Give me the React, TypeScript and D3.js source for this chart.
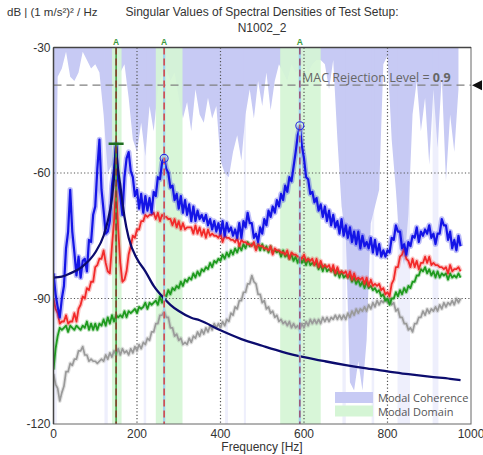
import React from "react";
import * as d3 from "d3";

// Spectral densities sampled every 5 Hz starting at 0 Hz (dB re (1 m/s²)²/Hz)
const FREQ_STEP = 5;

const sv1 = [
  -84, -89, -92, -94.5, -90, -87, -78, -74, -64, -74, -79, -84.5, -80, -85, -81, -80.5, -83.5, -76, -76.5, -70,
  -68, -59, -52, -64, -69, -74.5, -74, -71.5, -63, -59, -53, -62, -65.5, -70, -61, -56.5, -55, -59.5, -61, -65.5,
  -64, -68.5, -65, -69.5, -65.5, -69, -66, -69.5, -64.5, -65.5, -61, -61.5, -57.5, -56.5, -59, -60, -63.5, -63, -66.5, -65,
  -68.5, -65.5, -69.5, -66.5, -70, -67.5, -71.5, -68, -71.5, -69, -71, -70, -71.5, -70, -72.5, -71, -73.5, -71.5, -74, -72,
  -74.5, -71.5, -75, -72, -74, -73, -75, -73.5, -75.5, -72, -75.5, -71.5, -73, -69.5, -72, -72, -75.5, -74.5, -76.5, -73,
  -74.5, -71, -72.5, -69, -70.5, -68, -69.5, -66.5, -68, -65, -66.5, -63, -64.5, -61, -62, -58.5, -55, -51, -49, -53.5,
  -56.5, -61, -61.5, -65, -64.5, -67, -66, -69, -67.5, -70.5, -68, -71.5, -69, -72.5, -70, -73, -71.5, -74.5, -71, -75,
  -72.5, -75.5, -73, -76.5, -74, -77, -74, -78, -75, -77.5, -76.5, -78, -75.5, -79, -76, -79.5, -77, -80, -78.5, -80,
  -78.5, -79, -75.5, -76, -72.5, -74, -74, -78, -77, -79.5, -76.5, -77.5, -75, -75.5, -73, -76.5, -74, -75, -73.5, -74.5,
  -72.5, -75.5, -74.5, -77, -74.5, -74.5, -71, -72.5, -72.5, -76, -74, -78, -76, -78.5, -75, -77.5,
];

const sv2 = [
  -90, -92.5, -93.5, -96, -95.5, -95.5, -94, -96, -95.5, -95.5, -93.5, -95.5, -92.5, -91.5, -89.5, -90, -87.5, -88, -86, -86,
  -82.5, -82, -80.5, -80.5, -78.5, -81.5, -83.5, -84, -77.5, -71.5, -63, -73.5, -81.5, -86, -85.5, -83.5, -79.5, -77.5, -75, -75.5,
  -73.5, -73.5, -71.5, -71.5, -70, -70.5, -70, -70, -69.5, -71, -69.5, -71.5, -70, -70.5, -70.5, -71, -71, -72.5, -71, -73,
  -71.5, -73.5, -72, -73.5, -73, -73, -73, -74.5, -72.5, -74.5, -73, -75, -73.5, -75.5, -73.5, -75, -74.5, -75, -75, -75.5,
  -74.5, -76.5, -75, -75.5, -75.5, -76, -76, -76.5, -75.5, -77.5, -76, -76.5, -76.5, -77, -77, -77.5, -76.5, -78.5, -77, -77.5,
  -77.5, -78, -78, -78.5, -77.5, -79.5, -78, -78.5, -78.5, -79, -79, -79.5, -78.5, -80.5, -79, -79.5, -79.5, -80, -80, -80.5,
  -79.5, -81, -80.5, -81, -80.5, -82, -80.5, -82.5, -81, -82.5, -82, -82.5, -82, -83.5, -82, -84, -82.5, -84, -83.5, -84,
  -83.5, -85, -83.5, -85.5, -84, -85.5, -85, -85.5, -85, -86.5, -85, -87, -85.5, -87, -86.5, -87, -86.5, -88, -87.5, -89,
  -88.5, -89.5, -86.5, -85.5, -82.5, -82.5, -80, -79.5, -78, -80.5, -81, -82.5, -80.5, -82.5, -81, -83, -81.5, -81.5, -80, -81.5,
  -80, -82, -81.5, -82, -82, -82.5, -82.5, -83, -82.5, -84, -82, -83.5, -83, -83, -82.5, -83.5,
];

const sv3 = [
  -107, -102, -99, -97, -97.5, -97, -96.5, -98, -96.5, -97, -97.5, -96.5, -97, -97.5, -96.5, -97, -95.5, -97.5, -96, -97.5,
  -96, -97.5, -96, -96.5, -95, -96.5, -94.5, -96, -94, -95.5, -94, -94.5, -94, -94.5, -93, -94.5, -93, -93.5, -93, -92.5,
  -93.5, -92, -92.5, -92, -91, -92.5, -91, -91.5, -91, -90.5, -91.5, -89.5, -91, -89, -89.5, -88, -89, -87.5, -88, -87,
  -87.5, -86, -87, -85.5, -86, -85, -85.5, -84, -85, -83.5, -84.5, -83, -83.5, -82.5, -83, -81.5, -82.5, -81, -81.5, -80.5,
  -81, -79.5, -80.5, -79, -80, -78.5, -79.5, -78, -79, -77.5, -78.5, -77, -78, -76.5, -77.5, -77, -77, -78, -77, -78.5,
  -77, -78.5, -77.5, -79, -77.5, -79, -78.5, -79, -78.5, -80, -78.5, -80, -79.5, -80.5, -79.5, -81, -80, -81.5, -80, -81.5,
  -80.5, -82, -80.5, -82, -81.5, -82, -81.5, -83, -82, -83.5, -82, -83.5, -83, -83.5, -83, -84.5, -83.5, -85, -83.5, -85,
  -84.5, -85, -84.5, -86, -85, -86.5, -85.5, -87, -86, -87.5, -86, -87.5, -87, -88, -87.5, -88.5, -88, -89.5, -89, -90.5,
  -90, -91.5, -90, -90, -88.5, -89.5, -88, -89, -87.5, -88.5, -87, -87.5, -86, -86, -84.5, -84.5, -83, -83.5, -82.5, -84,
  -83, -84.5, -83.5, -85, -83.5, -85, -84, -84.5, -84, -85.5, -84, -85, -84.5, -85, -84, -85,
];

const sv4 = [
  -108, -110.5, -111.5, -114.5, -112.5, -111, -107.5, -107.5, -105.5, -106, -104.5, -104.5, -102.5, -102.5, -101.5, -103.5, -103.5, -105, -104.5, -105,
  -105, -105.5, -105, -104.5, -105, -103.5, -104.5, -103, -104, -102.5, -103.5, -102, -103.5, -102, -103, -102.5, -103.5, -102, -103, -101.5,
  -102.5, -101, -102, -100.5, -101, -99.5, -100, -98, -98, -96, -96, -94, -94, -93, -94.5, -94.5, -97, -97, -99, -98.5,
  -100, -99.5, -101, -100.5, -101, -99.5, -100.5, -99, -99.5, -98, -99, -97.5, -98.5, -97, -98, -96.5, -97.5, -96, -97, -96,
  -97, -95.5, -96.5, -95, -95.5, -93.5, -94, -92, -92.5, -90.5, -90.5, -88.5, -88.5, -86.5, -86.5, -84.5, -86, -86.5, -89, -89,
  -91, -90.5, -92.5, -92, -93.5, -93, -94.5, -94, -95.5, -95, -96, -95.5, -96.5, -95.5, -97, -96, -97, -96.5, -97.5, -96,
  -97, -95.5, -96.5, -95, -96, -95, -96, -95, -96, -94.5, -95.5, -94.5, -95.5, -94.5, -95, -94, -95, -94, -95, -94,
  -95, -93.5, -94.5, -93, -94, -92.5, -93.5, -92.5, -93, -92, -93, -91.5, -92.5, -91, -92, -90.5, -91.5, -90.5, -91, -90,
  -91, -90, -91.5, -91, -93, -92.5, -94.5, -94.5, -96, -96, -97.5, -97, -98, -96, -96, -94.5, -94.5, -93, -94, -92.5,
  -93.5, -92.5, -93, -92, -93, -91.5, -92.5, -91, -92, -91, -91.5, -90.5, -91.5, -90, -91, -90,
];

// Single-degree-of-freedom fit of the 150 Hz mode
const sdofFreq = [0, 20, 40, 70, 100, 120, 130, 140, 145, 148, 150, 152, 155, 160, 165, 170, 180, 200, 220, 240, 265, 280, 300, 330, 350, 400, 450, 500, 550, 600, 650, 700, 750, 800, 850, 900, 950, 975];
const sdofDb = [-85, -84.8, -84, -82.3, -79, -75, -71.5, -66, -61, -57, -53, -56.5, -59.5, -63, -67, -70.5, -75.5, -80.5, -83.5, -87, -90, -91.5, -93, -94.6, -95.2, -97.6, -99.7, -101.3, -102.8, -104, -105, -105.9, -106.7, -107.4, -108.1, -108.7, -109.2, -109.5];

// Modal coherence floor every 10 Hz (dB position on the plot scale)
const COH_STEP = 10;
const coherenceFloor = [
  -110, -37, -35, -31, -37, -38, -36, -31, -33, -35, -34, -36, -46, -60, -58, -45, -36, -34, -42, -52,
  -55, -48, -56, -44, -50, -40, -36, -35, -38, -36, -42, -47, -43, -50, -40, -46, -48, -42, -47, -44,
  -57, -60, -61, -55, -51, -57, -46, -40, -47, -38, -44, -36, -45, -38, -34, -36, -38, -34, -36, -35,
  -33, -36, -34, -33, -33, -34, -40, -33, -52, -68, -75, -110, -112, -105, -112, -100, -72, -68, -64, -34,
  -32, -52, -64, -78, -82, -70, -46, -38, -50, -42, -58, -40, -54, -37, -62, -46, -55, -40,
];
const faintCoherenceBands = [[0, 8], [122, 130], [216, 222], [411, 418], [456, 461], [692, 700], [762, 768], [824, 854], [908, 922]];

// Modal domains and identified modes
const modalDomains = [[140, 163], [245, 309], [543, 640]];
const modes = [
  { f: 150, peak: -53, base: "#3f9f3f", dash: "#8a3b2b", marker: "bar" },
  { f: 265, peak: -56.5, base: "#9fd0ee", dash: "#d9403f", marker: "circle" },
  { f: 590, peak: -48.7, base: "#9fd0ee", dash: "#9b4f72", marker: "circle" },
];

const macLevel = 0.9;
const macLevelDb = -39;
const xTicks = [0, 200, 400, 600, 800, 1000];
const yTicks = [-30, -60, -90, -120];
const gridX = [200, 400, 600, 800];
const gridY = [-60, -90];

const series = [
  { values: sv4, color: "#9a9a9a", width: 1.7, halo: 4 },
  { values: sv3, color: "#1e9a1e", width: 1.8, halo: 4 },
  { values: sv2, color: "#f22a2a", width: 1.8, halo: 4.5 },
  { values: sv1, color: "#1414e6", width: 2.2, halo: 5.5 },
];

export default function App() {
  const W = 483;
  const H = 455;
  const x = d3.scaleLinear().domain([0, 1000]).range([53.5, 471]);
  const y = d3.scaleLinear().domain([-120, -30]).range([424, 47.5]);
  const [x0, x1] = x.range();
  const yTop = y(-30);
  const yBot = y(-120);

  const svLine = d3
    .line<number>()
    .x((_, i) => x(i * FREQ_STEP))
    .y((d) => y(d));

  const sdofLine = d3
    .line<number>()
    .x((_, i) => x(sdofFreq[i]))
    .y((d) => y(d))
    .curve(d3.curveMonotoneX);

  const cohArea = d3
    .area<number>()
    .x((_, i) => x(Math.min(i * COH_STEP, 975)))
    .y0(yTop)
    .y1((d) => y(d));

  const cohFill = "#c7caf4";
  const domainFill = "#d5f5d5";
  const sans = "'Liberation Sans', Arial, sans-serif";
  const ui = "'Open Sans', 'Noto Sans', sans-serif";

  return (
    <svg
      width={W}
      height={H}
      style={{ position: "absolute", left: 0, top: 0, background: "#fff" }}
      fontFamily={sans}
    >
      <defs>
        <clipPath id="plot">
          <rect x={x0} y={yTop} width={x1 - x0} height={yBot - yTop} />
        </clipPath>
      </defs>

      {/* titles */}
      <text x={7} y={16} fontSize={11.5} fill="#333">
        dB | (1 m/s²)² / Hz
      </text>
      <text x={262} y={16} fontSize={12} fill="#333" textAnchor="middle">
        Singular Values of Spectral Densities of Test Setup:
      </text>
      <text x={262} y={32} fontSize={12} fill="#333" textAnchor="middle">
        N1002_2
      </text>

      <g clipPath="url(#plot)">
        {/* modal coherence */}
        <path d={cohArea(coherenceFloor) ?? ""} fill={cohFill} />
        {faintCoherenceBands.map(([a, b], i) => (
          <rect key={i} x={x(a)} y={yTop} width={x(b) - x(a)} height={yBot - yTop} fill={cohFill} opacity={0.3} />
        ))}
        {/* modal domains */}
        {modalDomains.map(([a, b], i) => (
          <rect key={i} x={x(a)} y={yTop} width={x(b) - x(a)} height={yBot - yTop} fill={domainFill} opacity={0.92} />
        ))}

        {/* grid */}
        {gridX.map((f) => (
          <line key={f} x1={x(f)} x2={x(f)} y1={yTop} y2={yBot} stroke="#555" strokeWidth={1.2} strokeDasharray="1.2,2.2" />
        ))}
        {gridY.map((v) => (
          <line key={v} x1={x0} x2={x1} y1={y(v)} y2={y(v)} stroke="#555" strokeWidth={1.2} strokeDasharray="1.2,2.2" />
        ))}

        {/* MAC rejection level */}
        <line x1={x0} x2={x1} y1={y(macLevelDb)} y2={y(macLevelDb)} stroke="#808080" strokeWidth={1.3} strokeDasharray="8,5" />

        {/* singular values */}
        {series.map((s, i) => (
          <g key={i}>
            <path d={svLine(s.values) ?? ""} fill="none" stroke={s.color} strokeWidth={s.halo} opacity={0.28} strokeLinejoin="round" />
            <path d={svLine(s.values) ?? ""} fill="none" stroke={s.color} strokeWidth={s.width} strokeLinejoin="round" />
          </g>
        ))}

        {/* SDOF fit */}
        <path d={sdofLine(sdofDb) ?? ""} fill="none" stroke="#0c0c6e" strokeWidth={2.3} />

        {/* mode markers */}
        {modes.map((m) => (
          <g key={m.f}>
            <line x1={x(m.f)} x2={x(m.f)} y1={yTop} y2={yBot} stroke={m.base} strokeWidth={m.marker === "bar" ? 1.6 : 2.2} />
            <line x1={x(m.f)} x2={x(m.f)} y1={yTop} y2={yBot} stroke={m.dash} strokeWidth={1.5} strokeDasharray="7,4" />
            {m.marker === "bar" ? (
              <line x1={x(m.f) - 7.5} x2={x(m.f) + 7.5} y1={y(m.peak)} y2={y(m.peak)} stroke="#1f6e1f" strokeWidth={2.6} />
            ) : (
              <circle cx={x(m.f)} cy={y(m.peak)} r={4} fill="none" stroke="#2a2ae0" strokeWidth={1.1} />
            )}
          </g>
        ))}
      </g>

      {/* mode labels */}
      {modes.map((m) => (
        <text key={m.f} x={x(m.f)} y={45} fontSize={8.5} fontWeight="bold" fill="#3c9a3c" textAnchor="middle">
          A
        </text>
      ))}

      {/* MAC label and pointer */}
      <text x={302} y={82} fontFamily={ui} fontSize={12.5} fill="#666">
        MAC Rejection Level = <tspan fontWeight="bold">{macLevel}</tspan>
      </text>
      <path d={`M${x1 + 1},${y(macLevelDb)} L${x1 + 11},${y(macLevelDb) - 5} L${x1 + 11},${y(macLevelDb) + 5} Z`} fill="#111" />

      {/* frame */}
      <rect x={x0} y={yTop} width={x1 - x0} height={yBot - yTop} fill="none" stroke="#666" strokeWidth={1} />
      <line x1={x0} x2={x0} y1={yTop} y2={yBot} stroke="#444" strokeWidth={1.5} />
      <line x1={x0} x2={x1} y1={yTop} y2={yTop} stroke="#444" strokeWidth={1.3} />

      {/* axes labels */}
      {yTicks.map((v) => (
        <text key={v} x={x0 - 3} y={y(v) + 4} fontSize={12} fill="#333" textAnchor="end">
          {v}
        </text>
      ))}
      {xTicks.map((f) => (
        <text key={f} x={x(f)} y={438} fontSize={12} fill="#333" textAnchor="middle">
          {f}
        </text>
      ))}
      <text x={262} y={451} fontSize={12} fill="#333" textAnchor="middle">
        Frequency [Hz]
      </text>

      {/* legend */}
      <rect x={335} y={392} width={38} height={11} fill={cohFill} />
      <rect x={335} y={405.5} width={38} height={11} fill={domainFill} />
      <text x={378} y={402} fontFamily={ui} fontSize={11} fill="#555">
        Modal Coherence
      </text>
      <text x={378} y={416} fontFamily={ui} fontSize={11} fill="#555">
        Modal Domain
      </text>
    </svg>
  );
}
